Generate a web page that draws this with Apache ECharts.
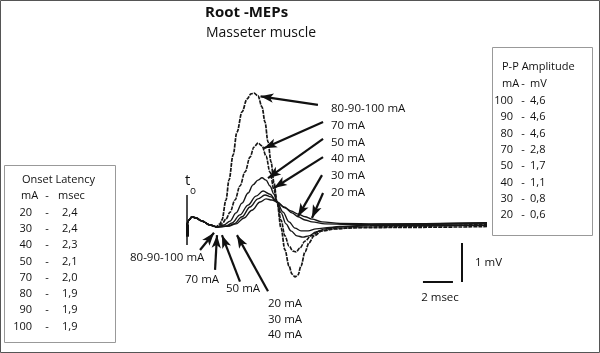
<!DOCTYPE html>
<html lang="en">
<head>
<meta charset="UTF-8" />
<title>Root -MEPs</title>
<script src="https://cdn.jsdelivr.net/npm/echarts@6/dist/echarts.min.js"></script>
<style>
  html, body { margin: 0; padding: 0; background: #fff; }
  #main { width: 600px; height: 353px; }
</style>
</head>
<body>
<div id="main"></div>
<script>
// traces: [ms after t0, mV]
var trace100 = [[0,0],[0.13,0.13],[0.33,0.21],[0.6,0.18],[1.0,0.10],[1.53,0],[1.93,-0.05],[2.2,0.03],
  [2.33,0.13],[2.6,0.64],[2.8,1.15],[3.07,1.79],[3.33,2.38],[3.67,2.9],[4.0,3.23],[4.27,3.36],[4.47,3.38],
  [4.73,3.31],[5.0,3.03],[5.2,2.64],[5.4,2.13],[5.6,1.62],[5.8,1.08],[6.0,0.59],[6.27,-0.08],[6.53,-0.64],
  [6.8,-1.05],[7.0,-1.26],[7.2,-1.33],[7.4,-1.28],[7.6,-1.05],[7.87,-0.69],[8.13,-0.46],[8.47,-0.28],
  [9.0,-0.15],[9.87,-0.10],[11.2,-0.06],[12.87,-0.05],[15.53,-0.03],[20,0.02]];
var trace70 = [[0,0],[0.13,0.13],[0.33,0.21],[0.6,0.18],[1.0,0.10],[1.53,0],[2.0,-0.05],[2.33,0.03],
  [2.6,0.15],[2.87,0.33],[3.2,0.64],[3.53,1.0],[3.87,1.36],[4.2,1.74],[4.47,2.0],[4.73,2.1],[5.0,2.03],
  [5.27,1.77],[5.53,1.36],[5.8,0.9],[6.0,0.59],[6.27,0.13],[6.53,-0.28],[6.8,-0.54],[7.07,-0.67],
  [7.27,-0.69],[7.53,-0.59],[7.87,-0.41],[8.27,-0.28],[8.87,-0.15],[9.87,-0.09],[11.53,-0.07],
  [15.53,-0.06],[20,-0.04]];
var trace50 = [[0,0],[0.13,0.13],[0.33,0.21],[0.6,0.18],[1.0,0.10],[1.53,0],[2.0,-0.05],[2.47,0],
  [2.87,0.1],[3.27,0.31],[3.67,0.56],[4.07,0.82],[4.4,1.03],[4.73,1.15],[5.0,1.21],[5.27,1.15],[5.53,1.0],
  [5.8,0.79],[6.0,0.59],[6.27,0.31],[6.6,0.03],[6.93,-0.15],[7.33,-0.28],[7.73,-0.31],[8.13,-0.28],
  [8.6,-0.18],[9.2,-0.10],[10.2,-0.04],[12.87,0.02],[20,0.05]];
var trace40 = [[0,0],[0.13,0.13],[0.33,0.21],[0.6,0.18],[1.0,0.10],[1.53,0],[2.0,-0.05],[2.6,-0.03],
  [3.0,0.05],[3.53,0.26],[4.07,0.51],[4.6,0.74],[5.07,0.87],[5.53,0.79],[6.0,0.59],[6.4,0.33],[6.8,0.08],
  [7.2,-0.08],[7.6,-0.15],[8.07,-0.15],[8.6,-0.10],[9.53,-0.06],[12.2,-0.02],[20,-0.01]];
var trace30 = [[0,0],[0.13,0.13],[0.33,0.21],[0.6,0.18],[1.0,0.10],[1.53,0],[2.0,-0.05],[2.73,-0.03],
  [3.13,0.03],[3.67,0.21],[4.2,0.46],[4.73,0.67],[5.2,0.77],[5.6,0.72],[6.0,0.59],[6.53,0.44],[7.0,0.31],
  [7.4,0.21],[7.87,0.13],[8.33,0.08],[9.2,0.03],[11.53,0.01],[20,0.03]];
var trace20 = [[0,0],[0.13,0.13],[0.33,0.21],[0.6,0.18],[1.0,0.10],[1.53,0],[2.0,-0.05],[2.73,-0.03],
  [3.27,0.03],[3.8,0.18],[4.33,0.38],[4.87,0.59],[5.27,0.67],[5.67,0.64],[6.0,0.59],[6.47,0.46],[6.93,0.36],
  [7.4,0.28],[7.87,0.21],[8.33,0.15],[9.0,0.08],[10.2,0.04],[12.87,0.03],[20,0.06]];

// tables in the two boxes
var onsetMa = ['20', '30', '40', '50', '70', '80', '90', '100'];
var onsetMs = ['2,4', '2,4', '2,3', '2,1', '2,0', '1,9', '1,9', '1,9'];
var ampMa = ['100', '90', '80', '70', '50', '40', '30', '20'];
var ampMv = ['4,6', '4,6', '4,6', '2,8', '1,7', '1,1', '0,8', '0,6'];

// label arrows [from, to] in ms / mV
var upperLabels = ['80-90-100 mA', '70 mA', '50 mA', '40 mA', '30 mA', '20 mA'];
var upperArrows = [
  [[8.73, 3.08], [4.9, 3.3]],
  [[9.07, 2.64], [5.13, 1.97]],
  [[9.07, 2.21], [5.4, 1.2]],
  [[9.07, 1.74], [5.8, 0.95]],
  [[9.0, 1.28], [7.4, 0.22]],
  [[9.07, 0.82], [8.33, 0.18]]
];
var lowerArrows = [
  [[0.87, -0.64], [1.8, -0.2]],
  [[1.87, -1.15], [2.0, -0.26]],
  [[3.53, -1.45], [2.33, -0.26]],
  [[5.4, -1.7], [3.33, -0.26]]
];
// calibration: 2 msec and 1 mV bars
var barMs = [15.73, 17.73];
var barMv = [-1.46, -0.46];

var font = '"Open Sans", sans-serif';
var ink = '#111';

function txt(x, y, s, size, opt) {
  opt = opt || {};
  return {
    type: 'text', x: x, y: y, silent: true,
    style: {
      text: s, fill: ink,
      font: (opt.bold ? 'bold ' : '') + size + 'px ' + font,
      textAlign: opt.align || 'left', textVerticalAlign: 'middle'
    }
  };
}

function traceSeries(name, data, dashed, w) {
  return {
    name: name, type: 'line', data: data, showSymbol: false,
    smooth: 0.35, smoothMonotone: 'x', silent: true,
    lineStyle: { color: '#161616', width: w, type: dashed ? [4, 1] : 'solid' }
  };
}

function arrowData(list) {
  return list.map(function (a) {
    return [{ coord: a[0], symbol: 'none' }, { coord: a[1], symbol: 'arrow' }];
  });
}

var graphic = [
  { type: 'rect', silent: true, shape: { x: 0.5, y: 0.5, width: 599, height: 352 },
    style: { fill: 'none', stroke: '#555', lineWidth: 1 } },
  txt(205, 13, 'Root -MEPs', 15, { bold: true }),
  txt(206, 33, 'Masseter muscle', 14),
  txt(185, 181, 't', 15),
  txt(190, 191, 'o', 10),
  txt(130, 258, '80-90-100 mA', 11.5),
  txt(185, 280, '70 mA', 11.5),
  txt(226, 289, '50 mA', 11.5),
  txt(268, 304, '20 mA', 11.5),
  txt(268, 320, '30 mA', 11.5),
  txt(268, 335, '40 mA', 11.5),
  txt(440, 298, '2 msec', 11.5, { align: 'center' }),
  txt(475, 263, '1 mV', 11.5),
  // onset latency box
  { type: 'rect', silent: true, shape: { x: 4.5, y: 165.5, width: 111, height: 177 },
    style: { fill: '#fff', stroke: '#999', lineWidth: 1 } },
  txt(22, 180, 'Onset Latency', 11),
  txt(21, 196, 'mA', 11), txt(47, 196, '-', 11, { align: 'center' }), txt(58, 196, 'msec', 11),
  // amplitude box
  { type: 'rect', silent: true, shape: { x: 492.5, y: 47.5, width: 100, height: 188 },
    style: { fill: '#fff', stroke: '#999', lineWidth: 1 } },
  txt(502, 67, 'P-P Amplitude', 11),
  txt(502, 84, 'mA', 11), txt(523, 84, '-', 11, { align: 'center' }), txt(530, 84, 'mV', 11)
];
upperLabels.forEach(function (s, i) {
  graphic.push(txt(331, 109 + i * 16.7, s, 11.5));
});
onsetMa.forEach(function (m, i) {
  var y = 212.5 + i * 16.3;
  graphic.push(txt(32, y, m, 11, { align: 'right' }));
  graphic.push(txt(47, y, '-', 11, { align: 'center' }));
  graphic.push(txt(62, y, onsetMs[i], 11));
});
ampMa.forEach(function (m, i) {
  var y = 101 + i * 16.3;
  graphic.push(txt(513, y, m, 11, { align: 'right' }));
  graphic.push(txt(523, y, '-', 11, { align: 'center' }));
  graphic.push(txt(530, y, ampMv[i], 11));
});

var myChart = echarts.init(document.getElementById('main'));
var option = {
  animation: false,
  backgroundColor: '#fff',
  grid: { left: 187, top: 88.5, width: 300, height: 214.5 },
  xAxis: { type: 'value', min: 0, max: 20, show: false },
  yAxis: { type: 'value', min: -2, max: 3.5, show: false },
  graphic: graphic,
  series: [
    traceSeries('20 mA', trace20, false, 1.4),
    traceSeries('30 mA', trace30, false, 1.4),
    traceSeries('40 mA', trace40, false, 1.4),
    traceSeries('50 mA', trace50, false, 1.4),
    traceSeries('70 mA', trace70, true, 1.6),
    traceSeries('80-90-100 mA', trace100, true, 1.7),
    {
      type: 'line', data: [], silent: true,
      markLine: {
        silent: true, animation: false,
        symbolSize: [7, 13],
        label: { show: false },
        lineStyle: { color: ink, width: 2.2, type: 'solid' },
        data: arrowData(upperArrows).concat(arrowData(lowerArrows)).concat([
          // t0 marker and stimulus artefact
          [{ coord: [0, 0.77], symbol: 'none', lineStyle: { width: 1.5 } }, { coord: [0, -0.51], symbol: 'none' }],
          [{ coord: [0, 0.02], symbol: 'none', lineStyle: { width: 3 } }, { coord: [0, -0.3], symbol: 'none' }],
          // calibration bars
          [{ coord: [barMs[0], barMv[0]], symbol: 'none', lineStyle: { width: 2 } }, { coord: [barMs[1], barMv[0]], symbol: 'none' }],
          [{ coord: [18.33, barMv[0]], symbol: 'none', lineStyle: { width: 2 } }, { coord: [18.33, barMv[1]], symbol: 'none' }]
        ])
      }
    }
  ]
};
myChart.setOption(option);
</script>
</body>
</html>
